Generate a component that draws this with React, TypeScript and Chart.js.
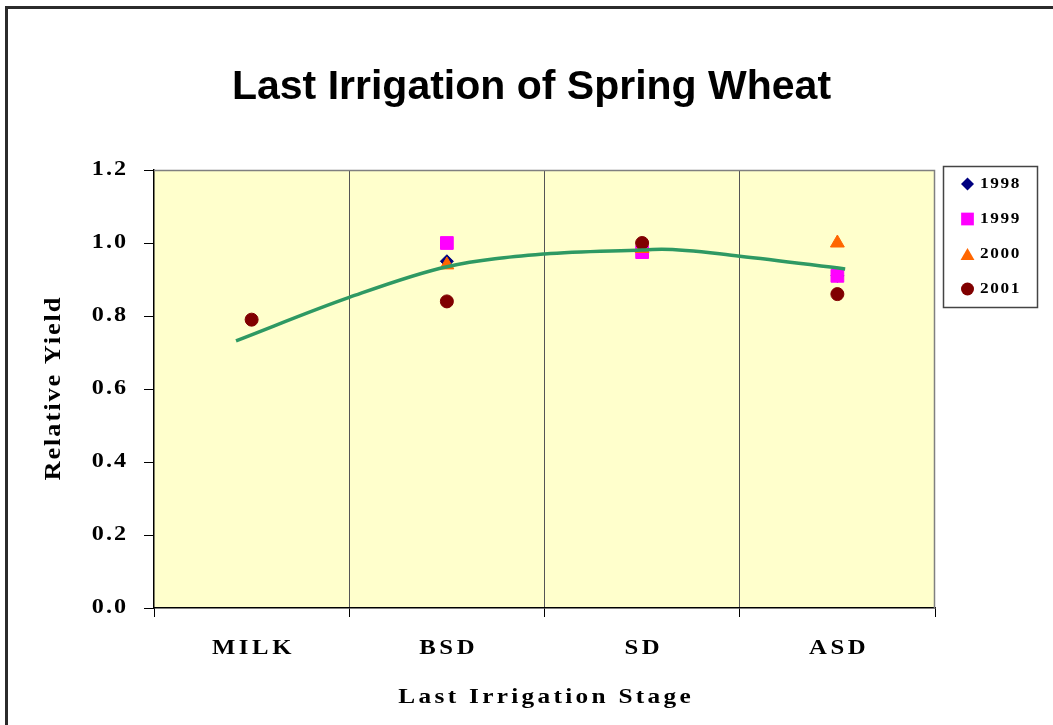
import React, { useEffect, useRef } from 'react';
import { Chart, registerables } from 'chart.js';

Chart.register(...registerables);

// ---- data ----
const categories = ['MILK', 'BSD', 'SD', 'ASD'];
const years = ['1998', '1999', '2000', '2001'];
const yield1998 = [null, 0.95, 0.98, 0.91];
const yield1999 = [null, 1.0, 0.975, 0.91];
const yield2000 = [null, 0.94, 0.985, 1.0];
const yield2001 = [0.79, 0.84, 1.0, 0.86];
// trend line (x in category-index units)
const trendPos = [-0.08, 0.5, 1.0, 1.5, 2.0, 2.1, 2.5, 3.04];
const trendValues = [0.732, 0.851, 0.935, 0.97, 0.981, 0.983, 0.964, 0.929];
const yMin = 0;
const yMax = 1.2;
const yStep = 0.2;

const chartTitle = 'Last Irrigation of Spring Wheat';
const xTitle = 'Last Irrigation Stage';
const yTitle = 'Relative Yield';

const seriesColors = ['#000080', '#FF00FF', '#FF6600', '#800000'];
const seriesStyles = ['rectRot', 'rect', 'triangle', 'circle'];
const seriesRadius = [6.5, 9, 8, 6.5];
const seriesValues = [yield1998, yield1999, yield2000, yield2001];

const W = 1053;
const H = 725;
const AREA = { left: 154, top: 170, right: 935, bottom: 608 };
const STRETCH = 1.15;

function drawMarker(ctx: CanvasRenderingContext2D, style: string, x: number, y: number, r: number, color: string) {
  ctx.save();
  ctx.fillStyle = color;
  ctx.beginPath();
  if (style === 'circle') {
    ctx.arc(x, y, r, 0, Math.PI * 2);
  } else if (style === 'rect') {
    const s = r * Math.SQRT1_2;
    ctx.rect(x - s, y - s, 2 * s, 2 * s);
  } else if (style === 'rectRot') {
    ctx.moveTo(x, y - r);
    ctx.lineTo(x + r, y);
    ctx.lineTo(x, y + r);
    ctx.lineTo(x - r, y);
    ctx.closePath();
  } else if (style === 'triangle') {
    ctx.moveTo(x, y - r);
    ctx.lineTo(x + r * Math.sin(Math.PI / 3), y + r / 2);
    ctx.lineTo(x - r * Math.sin(Math.PI / 3), y + r / 2);
    ctx.closePath();
  }
  ctx.fill();
  ctx.restore();
}

// draw text horizontally stretched with letter spacing (emulates the wide serif of the original)
function withStretch(ctx: any, sx: number, ls: number, fn: () => void) {
  const proto = Object.getPrototypeOf(ctx);
  const orig = proto.fillText;
  ctx.fillText = function (text: string, x: number, y: number) {
    this.save();
    this.translate(x, y);
    this.scale(sx, 1);
    const lsu = ls / sx;
    this.letterSpacing = lsu + 'px';
    const align = this.textAlign;
    let dx = 0;
    if (align === 'center') dx = lsu / 2;
    else if (align === 'right' || align === 'end') dx = lsu;
    orig.call(this, text, dx, 0);
    this.restore();
  };
  try {
    fn();
  } finally {
    delete ctx.fillText;
  }
}

const spacingCfg: any = {
  x: { labels: 3.6, title: 3.3 },
  y: { labels: 2.0, title: 1.9 },
};

const decorPlugin = {
  id: 'decor',
  beforeDraw(chart: any) {
    const ctx: CanvasRenderingContext2D = chart.ctx;
    for (const id of ['x', 'y']) {
      const scale: any = chart.scales[id];
      if (!scale || scale.__wrapped) continue;
      scale.__wrapped = true;
      const c = spacingCfg[id];
      const origLabels = scale.drawLabels;
      const origTitle = scale.drawTitle;
      scale.drawLabels = function (area: any) {
        withStretch(this.ctx, STRETCH, c.labels, () => origLabels.call(this, area));
      };
      scale.drawTitle = function () {
        withStretch(this.ctx, STRETCH, c.title, () => origTitle.call(this));
      };
    }
    ctx.save();
    ctx.fillStyle = '#FFFFFF';
    ctx.fillRect(0, 0, chart.width, chart.height);
    ctx.strokeStyle = '#2b2b2b';
    ctx.lineWidth = 3;
    ctx.beginPath();
    ctx.moveTo(6.5, chart.height + 2);
    ctx.lineTo(6.5, 7.5);
    ctx.lineTo(chart.width + 2, 7.5);
    ctx.stroke();
    const a = chart.chartArea;
    ctx.fillStyle = '#FFFFCC';
    ctx.fillRect(a.left, a.top, a.right - a.left, a.bottom - a.top);
    ctx.restore();
  },
  afterDraw(chart: any) {
    const ctx: CanvasRenderingContext2D = chart.ctx;
    const a = chart.chartArea;
    ctx.save();
    ctx.strokeStyle = '#808080';
    ctx.lineWidth = 1.5;
    ctx.beginPath();
    ctx.moveTo(a.left, a.top + 0.5);
    ctx.lineTo(a.right - 0.5, a.top + 0.5);
    ctx.lineTo(a.right - 0.5, a.bottom);
    ctx.stroke();

    ctx.fillStyle = '#000';
    ctx.font = 'bold 41px "Liberation Sans", Arial, sans-serif';
    ctx.textAlign = 'center';
    ctx.textBaseline = 'alphabetic';
    ctx.fillText(chartTitle, 531.5, 99);

    const lx = 943.5, ly = 166.5, lw = 94, lh = 141;
    ctx.fillStyle = '#FFFFFF';
    ctx.fillRect(lx, ly, lw, lh);
    ctx.strokeStyle = '#444';
    ctx.lineWidth = 1.5;
    ctx.strokeRect(lx, ly, lw, lh);
    ctx.font = 'bold 15px "Liberation Serif", "Times New Roman", serif';
    ctx.textAlign = 'left';
    ctx.textBaseline = 'middle';
    years.forEach((yr, i) => {
      const cy = 184 + i * 35;
      const st = seriesStyles[i];
      const r = st === 'rect' ? 9 : st === 'triangle' ? 8 : 6.5;
      drawMarker(ctx, st, 967.5, st === 'triangle' ? cy + 2 : cy, r, seriesColors[i]);
      ctx.fillStyle = '#000';
      withStretch(ctx, STRETCH, 1.6, () => ctx.fillText(yr, 980, cy + 0.5));
    });
    ctx.restore();
  },
};

export default function App() {
  const ref = useRef<HTMLCanvasElement | null>(null);

  useEffect(() => {
    if (!ref.current) return;
    const pointSets = seriesValues.map((vals, si) => ({
      type: 'scatter' as const,
      label: years[si],
      data: vals
        .map((v, i) => (v == null ? null : { x: i, y: v }))
        .filter((p) => p !== null),
      pointStyle: seriesStyles[si],
      pointRadius: seriesRadius[si],
      pointHoverRadius: seriesRadius[si],
      pointBackgroundColor: seriesColors[si],
      pointBorderColor: seriesColors[si],
      pointBorderWidth: 1,
      showLine: false,
      order: 3 - si,
    }));
    const trend = {
      type: 'line' as const,
      label: 'Trend',
      data: trendPos.map((x, i) => ({ x, y: trendValues[i] })),
      borderColor: '#2E9963',
      borderWidth: 3.5,
      pointRadius: 0,
      fill: false,
      cubicInterpolationMode: 'monotone' as const,
      order: -1,
    };

    const serif = '"Liberation Serif", "Times New Roman", serif';
    const chart = new Chart(ref.current, {
      type: 'scatter',
      data: { datasets: [...pointSets, trend] as any },
      options: {
        animation: false,
        responsive: false,
        devicePixelRatio: 1,
        layout: {
          padding: { left: 0, top: AREA.top, right: W - AREA.right, bottom: 0 },
        },
        plugins: {
          legend: { display: false },
          tooltip: { enabled: false },
          title: { display: false },
        },
        scales: {
          x: {
            type: 'linear',
            min: -0.5,
            max: categories.length - 0.5,
            afterFit: (s: any) => {
              s.height = H - AREA.bottom;
              s.paddingLeft = 0;
              s.paddingRight = 0;
            },
            ticks: {
              stepSize: 0.5,
              autoSkip: false,
              maxRotation: 0,
              minRotation: 0,
              padding: 19,
              color: '#000',
              font: { family: serif, size: 21.5, weight: 'bold', lineHeight: 1.2 },
              callback: (v: any) => {
                const n = Number(v);
                return Number.isInteger(n) && n >= 0 && n < categories.length ? categories[n] : '';
              },
            },
            grid: {
              drawOnChartArea: true,
              tickLength: 9,
              lineWidth: 1,
              color: (c: any) => {
                const v = c.tick ? c.tick.value : 0;
                return !Number.isInteger(v) && v > -0.5 && v < categories.length - 0.5 ? '#555555' : 'rgba(0,0,0,0)';
              },
              tickColor: (c: any) => {
                const v = c.tick ? c.tick.value : 0;
                return !Number.isInteger(v) ? '#000000' : 'rgba(0,0,0,0)';
              },
            },
            border: { display: true, color: '#000', width: 1.5 },
            title: {
              display: true,
              text: xTitle,
              color: '#000',
              font: { family: serif, size: 22, weight: 'bold', lineHeight: 1.2 },
              padding: { top: 0, bottom: 14 },
            },
          },
          y: {
            type: 'linear',
            min: yMin,
            max: yMax,
            afterFit: (s: any) => {
              s.width = AREA.left;
              s.paddingTop = 0;
              s.paddingBottom = 0;
            },
            ticks: {
              stepSize: yStep,
              padding: 18,
              color: '#000',
              font: { family: serif, size: 21, weight: 'bold', lineHeight: 1.2 },
              callback: (v: any) => Number(v).toFixed(1),
            },
            grid: {
              drawOnChartArea: false,
              tickLength: 10,
              tickColor: '#000',
              lineWidth: 1,
            },
            border: { display: true, color: '#000', width: 1.5 },
            title: {
              display: true,
              text: yTitle,
              color: '#000',
              font: { family: serif, size: 23, weight: 'bold', lineHeight: 1.2 },
              padding: { top: 40, bottom: 0 },
            },
          },
        },
      },
      plugins: [decorPlugin],
    } as any);
    return () => chart.destroy();
  }, []);

  return (
    <div style={{ position: 'absolute', left: 0, top: 0, width: W, height: H, background: '#fff' }}>
      <canvas ref={ref} width={W} height={H} style={{ display: 'block' }} />
    </div>
  );
}
